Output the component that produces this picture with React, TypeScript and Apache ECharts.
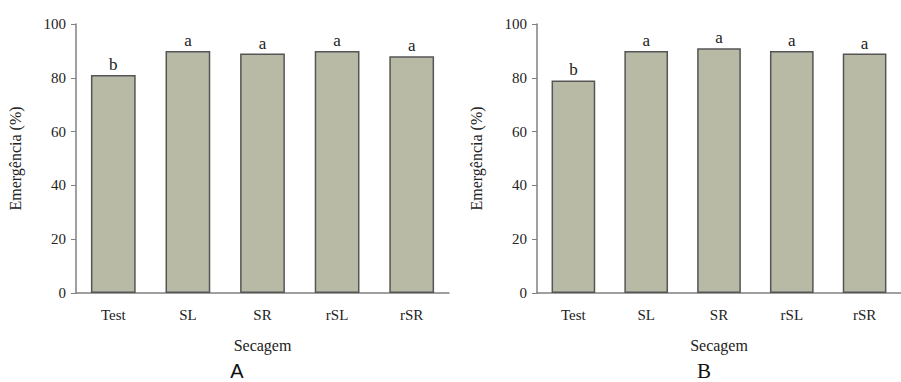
import React, { useEffect, useRef } from "react";
import * as echarts from "echarts";

const categories = ["Test", "SL", "SR", "rSL", "rSR"];
const valuesA = [81, 90, 89, 90, 88];
const valuesB = [79, 90, 91, 90, 89];
const lettersA = ["b", "a", "a", "a", "a"];
const lettersB = ["b", "a", "a", "a", "a"];
const yTicks = [0, 20, 40, 60, 80, 100];
const panelLabels = ["A", "B"];

const SERIF = "Liberation Serif";

export default function App() {
  const ref = useRef<HTMLDivElement>(null);
  useEffect(() => {
    document.body.style.margin = "0";
    const chart = echarts.init(ref.current!, null, { renderer: "svg" });
    const grids = [
      { left: 76, top: 24, width: 373, height: 269 },
      { left: 537, top: 24, width: 375, height: 269 },
    ];
    const mkX = (i: number) => ({
      type: "category",
      gridIndex: i,
      data: categories,
      name: "Secagem",
      nameLocation: "middle",
      nameGap: 44,
      nameTextStyle: { fontFamily: SERIF, fontSize: 16, color: "#222" },
      axisLine: { lineStyle: { color: "#808080", width: 1.5 } },
      axisTick: { alignWithLabel: true, length: 4, lineStyle: { color: "#808080" } },
      axisLabel: { fontFamily: SERIF, fontSize: 15, color: "#222", margin: 14 },
    });
    const mkY = (i: number) => ({
      type: "value",
      gridIndex: i,
      min: yTicks[0],
      max: yTicks[yTicks.length - 1],
      interval: 20,
      name: "Emergência (%)",
      nameLocation: "middle",
      nameRotate: 90,
      nameGap: 53,
      nameTextStyle: { fontFamily: SERIF, fontSize: 16, color: "#222" },
      axisLine: { show: true, lineStyle: { color: "#808080", width: 1.5 } },
      axisTick: { show: true, length: 5, lineStyle: { color: "#808080" } },
      axisLabel: { fontFamily: SERIF, fontSize: 15, color: "#222", margin: 10 },
      splitLine: { show: false },
    });
    const mkSeries = (i: number, vals: number[], letters: string[]) => ({
      type: "bar",
      xAxisIndex: i,
      yAxisIndex: i,
      barWidth: "60%",
      data: vals,
      itemStyle: { color: "#b9baa6", borderColor: "#555", borderWidth: 1.5 },
      label: {
        show: true,
        position: "top",
        distance: 2,
        fontFamily: SERIF,
        fontSize: 17,
        color: "#222",
        formatter: (p: any) => letters[p.dataIndex],
      },
    });
    chart.setOption({
      animation: false,
      backgroundColor: "#fff",
      grid: grids,
      xAxis: [mkX(0), mkX(1)],
      yAxis: [mkY(0), mkY(1)],
      series: [mkSeries(0, valuesA, lettersA), mkSeries(1, valuesB, lettersB)],
      graphic: [
        {
          type: "text",
          x: 237,
          y: 371,
          style: {
            text: panelLabels[0],
            fontFamily: "Liberation Sans",
            fontSize: 20,
            fill: "#111",
            align: "center",
            verticalAlign: "middle",
          },
        },
        {
          type: "text",
          x: 704,
          y: 371,
          style: {
            text: panelLabels[1],
            fontFamily: SERIF,
            fontSize: 21,
            fill: "#111",
            align: "center",
            verticalAlign: "middle",
          },
        },
      ],
    });
    return () => chart.dispose();
  }, []);
  return <div ref={ref} style={{ width: 901, height: 382 }} />;
}
